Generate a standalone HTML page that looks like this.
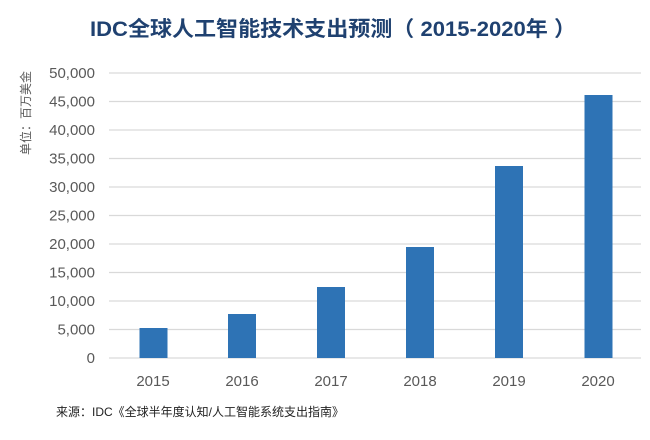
<!DOCTYPE html>
<html><head><meta charset="utf-8"><style>
html,body{margin:0;padding:0;background:#fff;}
</style></head><body>
<svg width="650" height="435" xmlns="http://www.w3.org/2000/svg" font-family="'Liberation Sans','Noto Sans CJK SC',sans-serif">
<rect width="650" height="435" fill="#fff"/>
<text x="90" y="36" textLength="486" lengthAdjust="spacingAndGlyphs" font-size="21" font-weight="bold" fill="#1f4170">IDC全球人工智能技术支出预测（ 2015-2020年 ）</text>
<g stroke="#d9d9d9" stroke-width="1.2">
<line x1="109" x2="641" y1="73" y2="73"/>
<line x1="109" x2="641" y1="101.5" y2="101.5"/>
<line x1="109" x2="641" y1="130" y2="130"/>
<line x1="109" x2="641" y1="158.5" y2="158.5"/>
<line x1="109" x2="641" y1="187" y2="187"/>
<line x1="109" x2="641" y1="215.5" y2="215.5"/>
<line x1="109" x2="641" y1="244" y2="244"/>
<line x1="109" x2="641" y1="272.5" y2="272.5"/>
<line x1="109" x2="641" y1="301" y2="301"/>
<line x1="109" x2="641" y1="329.5" y2="329.5"/>
<line x1="109" x2="641" y1="358" y2="358"/>
</g>
<g font-size="15" fill="#595959" text-anchor="end">
<text x="95" y="78">50,000</text>
<text x="95" y="106.5">45,000</text>
<text x="95" y="135">40,000</text>
<text x="95" y="163.5">35,000</text>
<text x="95" y="192">30,000</text>
<text x="95" y="220.5">25,000</text>
<text x="95" y="249">20,000</text>
<text x="95" y="277.5">15,000</text>
<text x="95" y="306">10,000</text>
<text x="95" y="334.5">5,000</text>
<text x="95" y="363">0</text>
</g>
<text transform="translate(30,113) rotate(-90)" text-anchor="middle" font-size="12" fill="#595959">单位：百万美金</text>
<g fill="#2e73b5">
<rect x="139.5" y="328" width="28" height="30"/>
<rect x="228" y="314" width="28" height="44"/>
<rect x="317" y="287" width="28" height="71"/>
<rect x="406" y="247" width="28" height="111"/>
<rect x="495" y="166" width="28" height="192"/>
<rect x="584.5" y="95" width="28" height="263"/>
</g>
<g font-size="15" fill="#595959" text-anchor="middle">
<text x="153" y="386">2015</text>
<text x="242" y="386">2016</text>
<text x="331" y="386">2017</text>
<text x="420" y="386">2018</text>
<text x="509" y="386">2019</text>
<text x="598" y="386">2020</text>
</g>
<text x="56" y="416" font-size="12" fill="#222">来源：IDC《全球半年度认知/人工智能系统支出指南》</text>
</svg>
</body></html>
